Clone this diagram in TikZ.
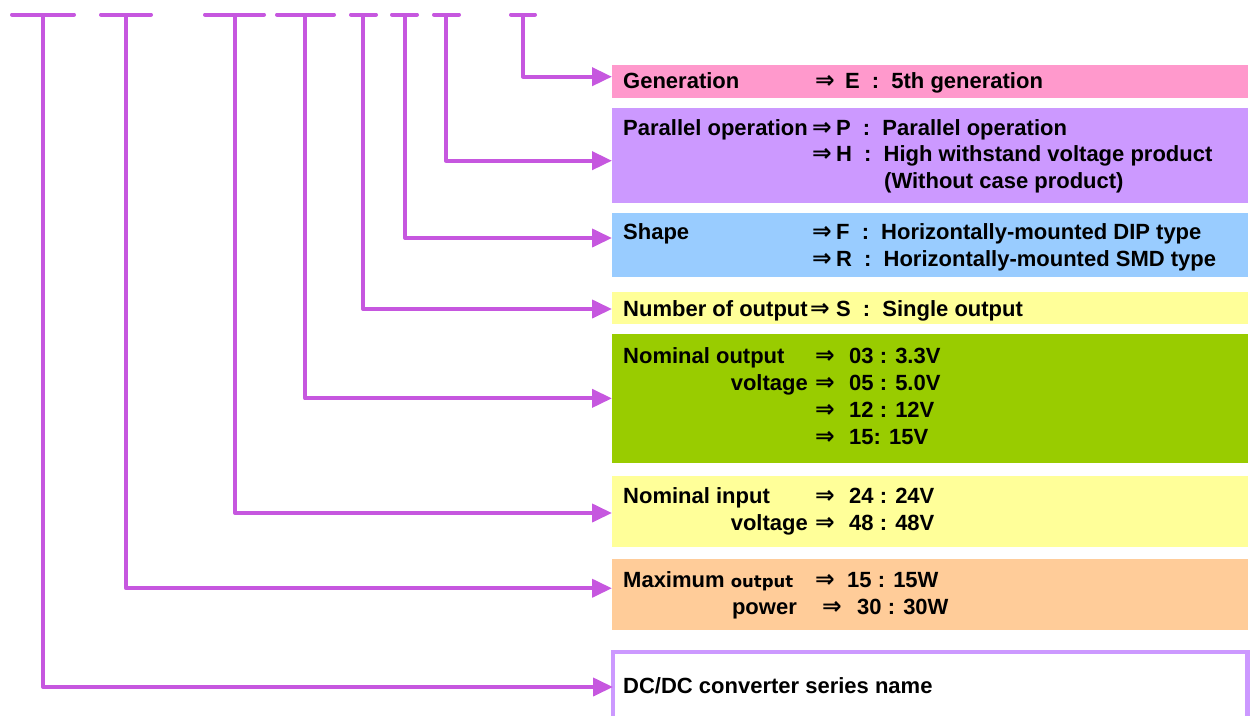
\documentclass[tikz,border=0pt]{standalone}
\usepackage{fontspec}
\setmainfont{Liberation Sans}
\newfontfamily\symfont{DejaVu Sans}[UprightFont=* Bold]
\usepackage{graphicx}
\usepackage{xcolor}
\definecolor{wire}{HTML}{C657DF}
\definecolor{genpink}{HTML}{FF99CC}
\definecolor{lilac}{HTML}{CC99FF}
\definecolor{skyblue}{HTML}{99CCFF}
\definecolor{paleyellow}{HTML}{FFFF99}
\definecolor{leafgreen}{HTML}{99CC00}
\definecolor{peach}{HTML}{FFCC99}
\usepackage{tikz}
\usetikzlibrary{arrows.meta}
\newcommand{\colsep}{\hspace{0.55em}:\hspace{0.55em}}
\newcommand{\thenarrow}{\scalebox{1.3}[1.35]{⇒}}

\begin{document}
\begin{tikzpicture}[x=1pt, y=-1pt, font=\bfseries\fontsize{22}{27}\selectfont,
  bar/.style={line width=4pt, color=wire, line cap=round},
  conn/.style={line width=4pt, color=wire, line join=round, -{Triangle[length=20pt, width=18pt]}},
  box/.style={anchor=north west, minimum width=636pt, inner sep=0pt, outer sep=0pt},
  lbl/.style={anchor=base west, inner sep=0pt},
  rlbl/.style={anchor=base east, inner sep=0pt},
  sym/.style={anchor=base west, inner sep=0pt, font=\symfont\fontsize{18}{20}\selectfont}]
\useasboundingbox (0,0) rectangle (1253,715);

% code letters
\draw[bar] (12,14.6) -- (74,14.6);   \coordinate (b1) at (43,14.6);
\draw[bar] (101,14.6) -- (151,14.6); \coordinate (b2) at (126,14.6);
\draw[bar] (205,14.6) -- (264,14.6); \coordinate (b3) at (235,14.6);
\draw[bar] (277,14.6) -- (334,14.6); \coordinate (b4) at (305,14.6);
\draw[bar] (351,14.6) -- (376,14.6); \coordinate (b5) at (363,14.6);
\draw[bar] (392,14.6) -- (417,14.6); \coordinate (b6) at (405,14.6);
\draw[bar] (434,14.6) -- (459,14.6); \coordinate (b7) at (446,14.6);
\draw[bar] (511,14.6) -- (535,14.6); \coordinate (b8) at (523,14.6);

% boxes
\node[box, fill=genpink, minimum height=32.7pt] (gen) at (612,65) {};
\node[box, fill=lilac, minimum height=95.3pt] (par) at (612,107.7) {};
\node[box, fill=skyblue, minimum height=64pt] (shp) at (612,212.7) {};
\node[box, fill=paleyellow, minimum height=32.3pt] (num) at (612,291.7) {};
\node[box, fill=leafgreen, minimum height=128.7pt] (vout) at (612,334) {};
\node[box, fill=paleyellow, minimum height=70.4pt] (vin) at (612,476.3) {};
\node[box, fill=peach, minimum height=71.5pt] (pmax) at (612,558.5) {};
\node[box, draw=lilac, line width=4.5pt, minimum width=634.5pt, minimum height=70pt] (series) at (613,652) {};

% connectors
\draw[conn] (b8) |- ([yshift=4.65pt]gen.west);
\draw[conn] (b7) |- ([yshift=-5.35pt]par.west);
\draw[conn] (b6) |- ([yshift=6.7pt]shp.west);
\draw[conn] (b5) |- ([yshift=-1.15pt]num.west);
\draw[conn] (b4) |- (vout.west);
\draw[conn] (b3) |- ([yshift=-1.5pt]vin.west);
\draw[conn] (b2) |- ([yshift=6pt]pmax.west);
\draw[conn] (b1) |- (series.west);

% generation
\node[lbl] (genL) at (623,88) {Generation};
\node[sym] (genA) at (815,88) {\thenarrow};
\node[lbl] (genV) at (845,88) {E\colsep 5th generation};

% parallel operation
\node[lbl] (parL) at (623,135) {Parallel operation};
\node[sym] (parA1) at (812,135) {\thenarrow};
\node[lbl] (parV1) at (836,135) {P\colsep Parallel operation};
\node[sym] (parA2) at (812,161.5) {\thenarrow};
\node[lbl] (parV2) at (836,161.5) {H\colsep High withstand voltage product};
\node[lbl] (parV3) at (884,188) {(Without case product)};

% shape
\node[lbl] (shpL) at (623,239.5) {Shape};
\node[sym] (shpA1) at (812,239.5) {\thenarrow};
\node[lbl] (shpV1) at (836,239.5) {F\colsep Horizontally-mounted DIP type};
\node[sym] (shpA2) at (812,266) {\thenarrow};
\node[lbl] (shpV2) at (836,266) {R\colsep Horizontally-mounted SMD type};

% number of output
\node[lbl] (numL) at (623,316) {Number of output};
\node[sym] (numA) at (810,316) {\thenarrow};
\node[lbl] (numV) at (836,316) {S\colsep Single output};

% nominal output voltage
\node[lbl] (voutL1) at (623,363) {Nominal output};
\node[rlbl] (voutL2) at (808,390) {voltage};
\node[sym] (voutA1) at (815,363) {\thenarrow};
\node[sym] (voutA2) at (815,390) {\thenarrow};
\node[sym] (voutA3) at (815,417) {\thenarrow};
\node[sym] (voutA4) at (815,444) {\thenarrow};
\node[lbl] (voutV1) at (849,363) {03 : 3.3V};
\node[lbl] (voutV2) at (849,390) {05 : 5.0V};
\node[lbl] (voutV3) at (849,417) {12 : 12V};
\node[lbl] (voutV4) at (849,444) {15: 15V};

% nominal input voltage
\node[lbl] (vinL1) at (623,503) {Nominal input};
\node[rlbl] (vinL2) at (808,530) {voltage};
\node[sym] (vinA1) at (815,503) {\thenarrow};
\node[sym] (vinA2) at (815,530) {\thenarrow};
\node[lbl] (vinV1) at (849,503) {24 : 24V};
\node[lbl] (vinV2) at (849,530) {48 : 48V};

% maximum output power
\node[lbl] (pmaxL1) at (623,587) {Maximum {\symfont\fontsize{16.5}{20}\selectfont output}};
\node[rlbl] (pmaxL2) at (797,614) {power};
\node[sym] (pmaxA1) at (815,587) {\thenarrow};
\node[sym] (pmaxA2) at (822,614) {\thenarrow};
\node[lbl] (pmaxV1) at (847,587) {15 : 15W};
\node[lbl] (pmaxV2) at (857,614) {30 : 30W};

% series name
\node[lbl] (seriesL) at (623,693) {DC/DC converter series name};
\end{tikzpicture}
\end{document}
